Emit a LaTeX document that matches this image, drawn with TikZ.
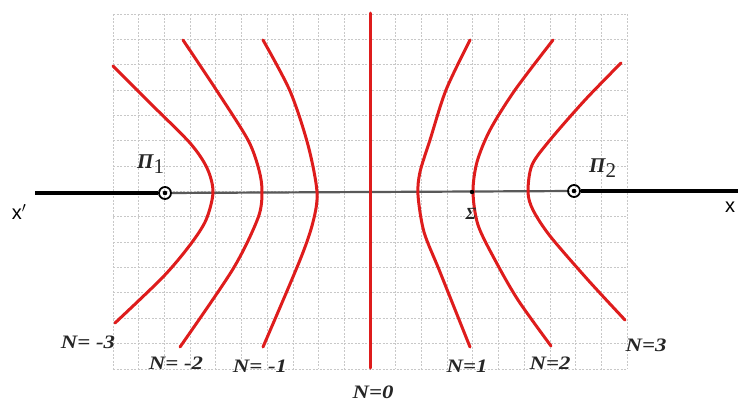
\documentclass[tikz,border=0pt]{standalone}
\usepackage{fontspec}
\setmainfont{Liberation Serif}
\setsansfont{Liberation Sans}
\definecolor{curvered}{RGB}{222,28,28}
\definecolor{gridgray}{RGB}{200,200,200}
\begin{document}
\begin{tikzpicture}[x=1pt,y=-1pt,
  gridline/.style={gridgray,line width=0.8pt,dash pattern=on 2pt off 1.5pt},
  curve/.style={curvered,line width=3pt,line cap=round},
  axisthick/.style={black,line width=3.4pt},
  axisthin/.style={black!65,line width=2.2pt},
  nlabel/.style={font=\fontsize{19}{19}\selectfont\bfseries\itshape,text=black!85,inner sep=0pt},
  focus/.style={circle,draw=black,line width=1.8pt,minimum size=12pt,inner sep=0pt},
  pilabel/.style={font=\fontsize{21}{21}\selectfont\bfseries\itshape,inner sep=0pt,text=black!85}
]
\useasboundingbox (0,0) rectangle (738,402);
% grid
\foreach \i in {0,...,20} {\draw[gridline] (113+25.7*\i,14) -- (113+25.7*\i,369);}
\foreach \j in {0,...,14} {\draw[gridline] (113,14+25.35*\j) -- (627,14+25.35*\j);}
% foci
\node[focus] (p1) at (165,193) {};
\node[focus] (p2) at (574,191) {};
\fill (p1) circle (2.3pt);
\fill (p2) circle (2.3pt);
\coordinate (xl) at (35,193);
\coordinate (xr) at (738,191);
\draw[axisthin] (p1) -- (p2);
\draw[axisthick] (xl) -- (p1.west);
\draw[axisthick] (p2.east) -- (xr);
% curves
\draw[curve] (370,13) -- (370,368);
\draw[curve] plot[smooth,tension=0.5] coordinates {(113,66) (150,103) (190,143) (207,168) (213,192) (206,220) (190,245) (163,277) (115,323)};
\draw[curve] plot[smooth,tension=0.5] coordinates {(183,40) (217,91) (248,140) (259,170) (262,192) (258,218) (233,269) (180,347)};
\draw[curve] plot[smooth,tension=0.5] coordinates {(263,40) (290,91) (308,145) (317,192) (313,222) (300,260) (263,347)};
\draw[curve] plot[smooth,tension=0.5] coordinates {(470,40) (446,90) (430,140) (420,172) (418,195) (424,232) (440,272) (470,347)};
\draw[curve] plot[smooth,tension=0.5] coordinates {(553,40) (515,90) (490,130) (477,162) (473,192) (478,225) (495,260) (518,300) (551,346)};
\draw[curve] plot[smooth,tension=0.5] coordinates {(621,63) (585,100) (550,140) (532,165) (528,192) (533,210) (550,236) (588,280) (625,320)};
% sigma point
\fill (472,192) circle (2.2pt);
\node[pilabel,font=\fontsize{17}{17}\selectfont\bfseries\itshape] (sig) at (471,214) {Σ};
% pi labels
\node[pilabel,anchor=base west] (pi1) at (137,168) {Π\raisebox{-5pt}{\fontsize{21}{21}\selectfont\mdseries\upshape 1}};
\node[pilabel,anchor=base west] (pi2) at (589,172) {Π\raisebox{-5pt}{\fontsize{21}{21}\selectfont\mdseries\upshape 2}};
% axis labels
\node[font=\sffamily\fontsize{20}{20}\selectfont,inner sep=0pt] (xp) at (19,212) {x$'$};
\node[font=\sffamily\fontsize{20}{20}\selectfont,inner sep=0pt] (xx) at (730,207) {x};
% N labels
\node[nlabel] (nm3) at (88,342) {\scalebox{1.2}[1]{N= -3}};
\node[nlabel] (nm2) at (176,363) {\scalebox{1.2}[1]{N= -2}};
\node[nlabel] (nm1) at (260,366) {\scalebox{1.2}[1]{N= -1}};
\node[nlabel] (n0) at (373,392) {\scalebox{1.2}[1]{N=0}};
\node[nlabel] (n1) at (467,366) {\scalebox{1.2}[1]{N=1}};
\node[nlabel] (n2) at (550,363) {\scalebox{1.2}[1]{N=2}};
\node[nlabel] (n3) at (646,345) {\scalebox{1.2}[1]{N=3}};
\end{tikzpicture}
\end{document}
